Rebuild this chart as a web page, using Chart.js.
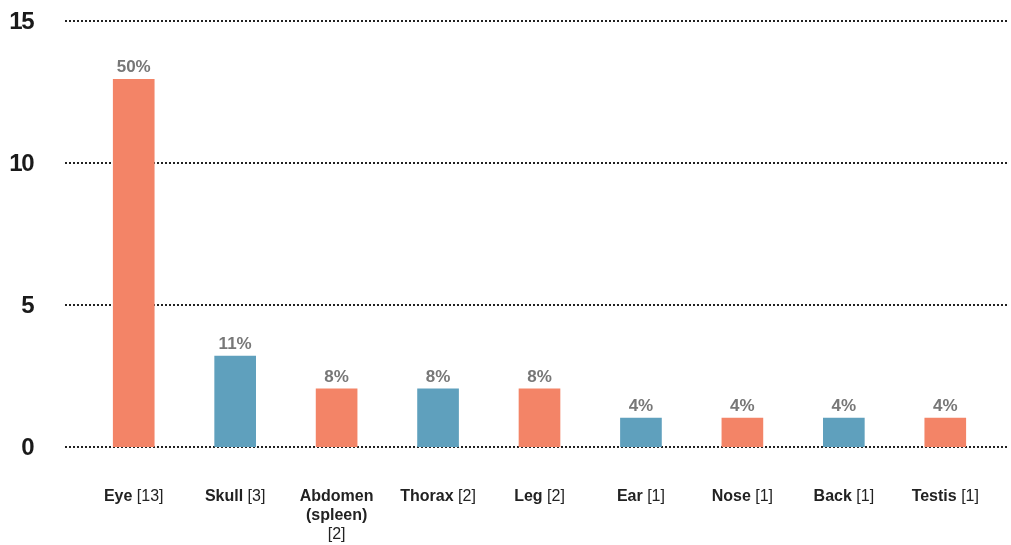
<!DOCTYPE html>
<html>
<head>
<meta charset="utf-8">
<script src="https://cdn.jsdelivr.net/npm/chart.js@4"></script>
<style>
  html, body { margin: 0; padding: 0; background: #fff; }
  #wrap { width: 1011px; height: 545px; }
</style>
</head>
<body>
<div id="wrap"><canvas id="chart" width="1011" height="545"></canvas></div>
<script>
const categories = ["Eye", "Skull", "Abdomen\n(spleen)", "Thorax", "Leg", "Ear", "Nose", "Back", "Testis"];
const counts = [13, 3, 2, 2, 2, 1, 1, 1, 1];
const barValues = [12.95, 3.2, 2.05, 2.05, 2.05, 1.02, 1.02, 1.02, 1.02];
const percents = ["50%", "11%", "8%", "8%", "8%", "4%", "4%", "4%", "4%"];
const yTicks = [0, 5, 10, 15];

const orange = "#f38467";
const blue = "#5fa0bd";
const barColors = categories.map((c, i) => (i % 2 === 0 ? orange : blue));

const font = "'Liberation Sans', Arial, Helvetica, sans-serif";

const labelPlugin = {
  id: "labelPlugin",
  beforeDatasetsDraw(chart) {
    const ctx = chart.ctx;
    const y = chart.scales.y;
    ctx.save();
    ctx.strokeStyle = "#222";
    ctx.lineWidth = 2;
    ctx.setLineDash([2, 2]);
    yTicks.forEach((t) => {
      const py = Math.round(y.getPixelForValue(t));
      ctx.beginPath();
      ctx.moveTo(65, py);
      ctx.lineTo(1008, py);
      ctx.stroke();
    });
    ctx.setLineDash([]);
    ctx.fillStyle = "#1a1a1a";
    ctx.font = "bold 24px " + font;
    ctx.letterSpacing = "-1.5px";
    ctx.textAlign = "right";
    ctx.textBaseline = "middle";
    yTicks.forEach((t) => {
      ctx.fillText(String(t), 33, y.getPixelForValue(t) + 1);
    });
    ctx.letterSpacing = "0px";
    ctx.restore();
  },
  afterDatasetsDraw(chart) {
    const ctx = chart.ctx;
    const x = chart.scales.x;
    const meta = chart.getDatasetMeta(0);
    ctx.save();
    // percent labels
    ctx.fillStyle = "#777";
    ctx.font = "bold 17px " + font;
    ctx.textAlign = "center";
    ctx.textBaseline = "alphabetic";
    meta.data.forEach((bar, i) => {
      ctx.fillText(percents[i], bar.x, bar.y - 7);
    });
    // category labels: bold name + regular count
    const lineH = 19;
    const sz = 16;
    categories.forEach((c, i) => {
      const cx = x.getPixelForValue(i);
      const lines = c.split("\n");
      const countTxt = "[" + counts[i] + "]";
      ctx.textBaseline = "middle";
      ctx.textAlign = "left";
      let py = 497;
      if (lines.length === 1) {
        ctx.font = "bold " + sz + "px " + font;
        const w1 = ctx.measureText(lines[0] + " ").width;
        ctx.font = sz + "px " + font;
        const w2 = ctx.measureText(countTxt).width;
        let sx = cx - (w1 + w2) / 2;
        ctx.fillStyle = "#222";
        ctx.font = "bold " + sz + "px " + font;
        ctx.fillText(lines[0] + " ", sx, py);
        ctx.font = sz + "px " + font;
        ctx.fillText(countTxt, sx + w1, py);
      } else {
        ctx.textAlign = "center";
        ctx.fillStyle = "#222";
        ctx.font = "bold " + sz + "px " + font;
        lines.forEach((l, k) => ctx.fillText(l, cx, py + k * lineH));
        ctx.font = sz + "px " + font;
        ctx.fillText(countTxt, cx, py + lines.length * lineH);
      }
    });
    ctx.restore();
  }
};

new Chart(document.getElementById("chart"), {
  type: "bar",
  data: {
    labels: categories,
    datasets: [{
      data: barValues,
      backgroundColor: barColors,
      borderWidth: 0,
      barThickness: 41
    }]
  },
  options: {
    responsive: false,
    animation: false,
    layout: { padding: { left: 83, right: 15, top: 21, bottom: 98 } },
    plugins: { legend: { display: false }, tooltip: { enabled: false } },
    scales: {
      x: { display: false, offset: true },
      y: { display: false, min: 0, max: 15 }
    }
  },
  plugins: [labelPlugin]
});
</script>
</body>
</html>
